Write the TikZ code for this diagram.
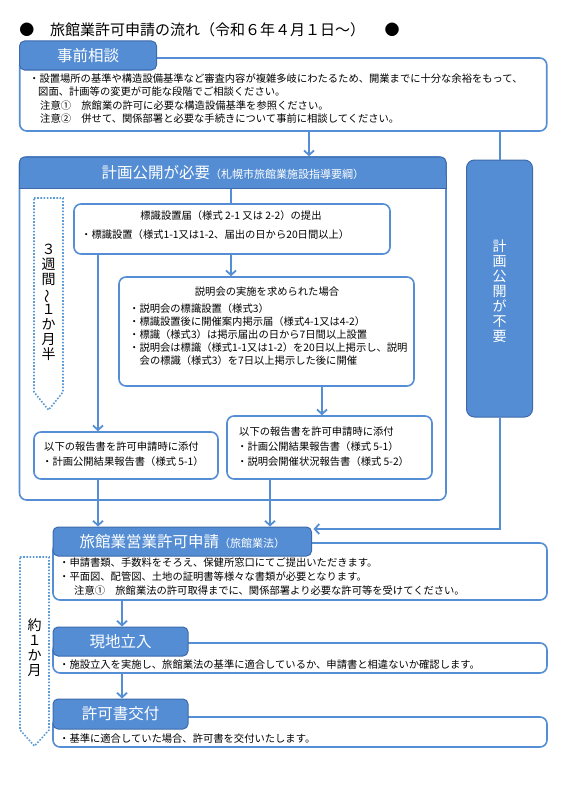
\documentclass[tikz,border=0pt]{standalone}
\usepackage{fontspec}
\setmainfont{Noto Sans CJK JP}
\usepackage{graphicx}
\usetikzlibrary{arrows.meta}
\definecolor{hdrfill}{RGB}{84,141,212}
\definecolor{hdrline}{RGB}{62,106,172}
\definecolor{boxline}{RGB}{85,142,213}
\definecolor{dotline}{RGB}{91,155,213}
\tikzset{
  bodytext/.style={font=\fontsize{10.3}{12}\selectfont, inner sep=0pt, anchor=west, text=black},
  ctext/.style={font=\fontsize{10.3}{12}\selectfont, inner sep=0pt, text=black},
  contentbox/.style={draw=boxline, line width=1.6pt, rounded corners=7pt, fill=white, inner sep=0pt},
  hdrbox/.style={draw=hdrline, line width=1pt, fill=hdrfill, rounded corners=5pt, inner sep=0pt, text=white, font=\fontsize{15.5}{18}\selectfont},
  arrowline/.style={draw=boxline, line width=2pt, -{Straight Barb[length=4.5pt,width=10pt,line width=1.8pt]}},
  connline/.style={draw=boxline, line width=2pt},
  dotshape/.style={draw=dotline, line width=1.6pt, dash pattern=on 1.6pt off 1.6pt},
  vtext/.style={font=\fontsize{14}{15}\selectfont, align=center, inner sep=0pt},
}
\begin{document}
\begin{tikzpicture}[x=1pt,y=-1pt]
\useasboundingbox (0,0) rectangle (566,800);
\fill[white] (0,0) rectangle (566,800);

% title
\node[font=\fontsize{15}{18}\selectfont, inner sep=0pt] (bul1) at (27,30) {●};
\node[font=\fontsize{15}{18}\selectfont, inner sep=0pt, anchor=west] (title) at (50,30) {旅館業許可申請の流れ（令和６年４月１日～）};
\node[font=\fontsize{15}{18}\selectfont, inner sep=0pt] (bul2) at (392,30) {●};

% step 1
\node[contentbox, minimum width=527pt, minimum height=73pt] (box1) at (283.25,94.5) {};
\node[hdrbox, minimum width=137pt, minimum height=29pt] (hdr1) at (88,55.5) {事前相談};
\node[bodytext] (t1a) at (29,79) {・設置場所の基準や構造設備基準など審査内容が複雑多岐にわたるため、開業までに十分な余裕をもって、};
\node[bodytext] (t1b) at (38,92) {図面、計画等の変更が可能な段階でご相談ください。};
\node[bodytext] (t1c) at (40,105.5) {注意①　旅館業の許可に必要な構造設備基準を参照ください。};
\node[bodytext] (t1d) at (40,119) {注意②　併せて、関係部署と必要な手続きについて事前に相談してください。};

% public disclosure container
\node[contentbox, minimum width=426.5pt, minimum height=343pt] (pubbox) at (232.75,328.5) {};
\node[hdrbox, minimum width=426.5pt, minimum height=31pt] (pubhdr) at (232.75,172.5) {};
\filldraw[fill=hdrfill, draw=hdrline, line width=1pt] (19.5,176) -- (19.5,188) -- (446,188) -- (446,176);
\node[font=\fontsize{15.5}{18}\selectfont, text=white, inner sep=0pt] (pubtitle) at (232.75,172.5) {計画公開が必要{\fontsize{11}{13}\selectfont（札幌市旅館業施設指導要綱）}};

% dotted duration 1
\draw[dotshape] (34,198) -- (63,198) -- (63,392) -- (48.5,410) -- (34,392) -- cycle;
\node[vtext] (dur1) at (48.5,302.5) {３\\週\\間\\\rotatebox[origin=c]{90}{～}\\１\\か\\月\\半};

% sign box
\node[contentbox, minimum width=316pt, minimum height=50pt] (sign) at (232,229) {};
\node[ctext] (signt) at (231,216) {標識設置届（様式 2-1 又は 2-2）の提出};
\node[bodytext] (signb) at (81,235) {・標識設置（様式1-1又は1-2、届出の日から20日間以上）};

% explanation box
\node[contentbox, minimum width=295pt, minimum height=109pt] (expl) at (266.5,331.5) {};
\node[ctext] (explt) at (267,292) {説明会の実施を求められた場合};
\node[bodytext] (ex1) at (129,309) {・説明会の標識設置（様式3）};
\node[bodytext] (ex2) at (129,322) {・標識設置後に開催案内掲示届（様式4-1又は4-2）};
\node[bodytext] (ex3) at (129,335) {・標識（様式3）は掲示届出の日から7日間以上設置};
\node[bodytext] (ex4) at (129,348) {・説明会は標識（様式1-1又は1-2）を20日以上掲示し、説明};
\node[bodytext] (ex5) at (139.5,361) {会の標識（様式3）を7日以上掲示した後に開催};

% report boxes
\node[contentbox, minimum width=184pt, minimum height=47pt] (rep1) at (126,455.5) {};
\node[bodytext] (r1a) at (44,447) {以下の報告書を許可申請時に添付};
\node[bodytext] (r1b) at (42,462) {・計画公開結果報告書（様式 5-1）};
\node[contentbox, minimum width=205pt, minimum height=63pt] (rep2) at (329.5,447.5) {};
\node[bodytext] (r2a) at (239,432) {以下の報告書を許可申請時に添付};
\node[bodytext] (r2b) at (237,447) {・計画公開結果報告書（様式 5-1）};
\node[bodytext] (r2c) at (237,462) {・説明会開催状況報告書（様式 5-2）};

% no disclosure
\node[hdrbox, rounded corners=8pt, minimum width=66pt, minimum height=257pt] (nopub) at (499.5,288.5) {};
\node[vtext, text=white] (nopubt) at (499.5,291) {計\\画\\公\\開\\が\\不\\要};

% application
\node[contentbox, minimum width=494pt, minimum height=57pt] (box3) at (300,571.5) {};
\node[hdrbox, minimum width=258.5pt, minimum height=29pt] (hdr3) at (182.25,541.5) {旅館業営業許可申請{\fontsize{11}{13}\selectfont（旅館業法）}};
\node[bodytext] (t3a) at (59,563) {・申請書類、手数料をそろえ、保健所窓口にてご提出いただきます。};
\node[bodytext] (t3b) at (59,577) {・平面図、配管図、土地の証明書等様々な書類が必要となります。};
\node[bodytext] (t3c) at (74,591) {注意①　旅館業法の許可取得までに、関係部署より必要な許可等を受けてください。};

% inspection
\node[contentbox, minimum width=494pt, minimum height=30pt] (box4) at (300,658) {};
\node[hdrbox, minimum width=135pt, minimum height=29pt] (hdr4) at (120.5,641.5) {現地立入};
\node[bodytext] (t4) at (59,665) {・施設立入を実施し、旅館業法の基準に適合しているか、申請書と相違ないか確認します。};

% permit
\node[contentbox, minimum width=494pt, minimum height=30pt] (box5) at (300,732) {};
\node[hdrbox, minimum width=135pt, minimum height=30pt] (hdr5) at (120.5,714) {許可書交付};
\node[bodytext] (t5) at (59,739) {・基準に適合していた場合、許可書を交付いたします。};

% dotted duration 2
\draw[dotshape] (20,557) -- (49,557) -- (49,730) -- (34.5,746) -- (20,730) -- cycle;
\node[vtext] (dur2) at (34.5,647.5) {約\\１\\か\\月};

% connectors
\draw[arrowline] (309,0 |- box1.south) -- (309,0 |- pubbox.north);
\draw[connline] (499.5,0 |- box1.south) -- (nopub.north);
\draw[connline] (231,0 |- pubhdr.south) -- (231,0 |- sign.north);
\draw[arrowline] (231,0 |- sign.south) -- (231,0 |- expl.north);
\draw[arrowline] (98,0 |- sign.south) -- (98,0 |- rep1.north);
\draw[arrowline] (322,0 |- expl.south) -- (322,0 |- rep2.north);
\draw[arrowline] (98,0 |- rep1.south) -- (98,0 |- hdr3.north);
\draw[arrowline] (270,0 |- rep2.south) -- (270,0 |- hdr3.north);
\draw[arrowline, shorten >=1.5pt] (nopub.south) |- ([yshift=12.5pt]hdr3.east);
\draw[arrowline] (122,0 |- box3.south) -- (122,0 |- hdr4.north);
\draw[arrowline] (122,0 |- box4.south) -- (122,0 |- hdr5.north);
\end{tikzpicture}
\end{document}
